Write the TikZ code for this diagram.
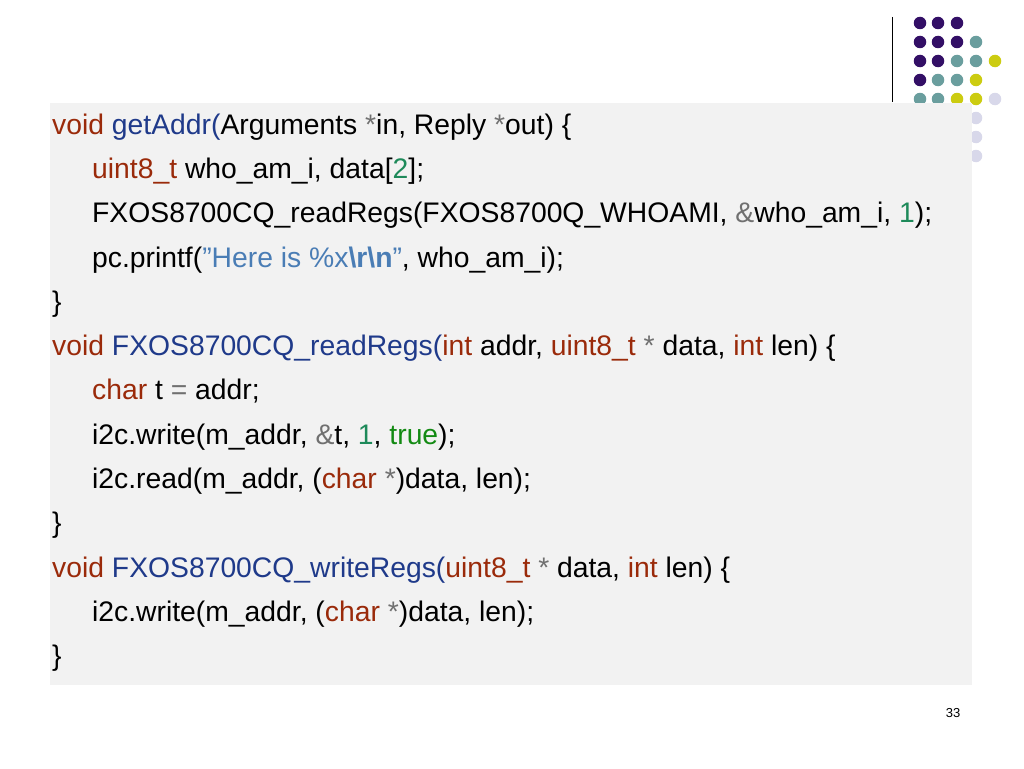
\documentclass[tikz,border=0pt]{standalone}
\usepackage{fontspec}
\setmainfont[Ligatures=NoCommon]{Liberation Sans}
\definecolor{kw}{HTML}{9A2A0A}
\definecolor{fn}{HTML}{1F3A8A}
\definecolor{num}{HTML}{1E8A5A}
\definecolor{str}{HTML}{4A7DB5}
\definecolor{tru}{HTML}{138A13}
\definecolor{op}{HTML}{707070}
\definecolor{boxbg}{HTML}{F2F2F2}
\definecolor{dP}{HTML}{330F66}
\definecolor{dT}{HTML}{6A9E9E}
\definecolor{dY}{HTML}{CCCC11}
\definecolor{dL}{HTML}{D8D8EA}
\newcommand{\kw}[1]{\textcolor{kw}{#1}}
\newcommand{\fn}[1]{\textcolor{fn}{#1}}
\newcommand{\nm}[1]{\textcolor{num}{#1}}
\newcommand{\op}[1]{\textcolor{op}{#1}}
\newcommand{\qt}{\symbol{34}}
\begin{document}
\begin{tikzpicture}[x=1pt,y=-1pt,
  code/.style={anchor=base west,inner sep=0pt,font=\fontsize{28.3}{32}\selectfont},
  dot/.style={circle,inner sep=0pt,minimum size=12.5pt}]
  \useasboundingbox (0,0) rectangle (1024,768);
  \fill[white] (0,0) rectangle (1024,768);
  % dots
  \foreach \c/\x/\y in {dP/920/23,dP/938/23,dP/957/23,
    dP/920/42,dP/938/42,dP/957/42,dT/976/42,
    dP/920/61,dP/938/61,dT/957/61,dT/976/61,dY/995/61,
    dP/920/80,dT/938/80,dT/957/80,dY/976/80,
    dT/920/99,dT/938/99,dY/957/99,dY/976/99,dL/995/99,
    dL/976/118,dL/976/137,dL/976/156}
    \node[dot,fill=\c] at (\x,\y) {};
  \draw[thin] (892,17) -- (892,102);
  \fill[boxbg] (50,103) rectangle (972,685);
  % code
  \node[code] (l1) at (52,134) {\kw{void} \fn{getAddr(}Arguments \op{*}in, Reply \op{*}out) \{};
  \node[code] (l2) at (92,178) {\kw{uint8\_t} who\_am\_i, data[\nm{2}];};
  \node[code] (l3) at (92,222) {FXOS8700CQ\_readRegs(FXOS8700Q\_WHOAMI, \op{\&}who\_am\_i, \nm{1});};
  \node[code] (l4) at (92,267) {pc.printf(\textcolor{str}{\qt Here is \%x\textbf{\textbackslash r\textbackslash n}\qt}, who\_am\_i);};
  \node[code] (l5) at (52,311) {\}};
  \node[code] (l6) at (52,355) {\kw{void} \fn{FXOS8700CQ\_readRegs(}\kw{int} addr, \kw{uint8\_t} \op{*} data, \kw{int} len) \{};
  \node[code] (l7) at (92,399) {\kw{char} t \op{=} addr;};
  \node[code] (l8) at (92,444) {i2c.write(m\_addr, \op{\&}t, \nm{1}, \textcolor{tru}{true});};
  \node[code] (l9) at (92,488) {i2c.read(m\_addr, (\kw{char} \op{*})data, len);};
  \node[code] (l10) at (52,532) {\}};
  \node[code] (l11) at (52,577) {\kw{void} \fn{FXOS8700CQ\_writeRegs(}\kw{uint8\_t} \op{*} data, \kw{int} len) \{};
  \node[code] (l12) at (92,621) {i2c.write(m\_addr, (\kw{char} \op{*})data, len);};
  \node[code] (l13) at (52,665) {\}};
  \node[font=\fontsize{13}{15}\selectfont] (pg) at (953,713) {33};
\end{tikzpicture}
\end{document}
